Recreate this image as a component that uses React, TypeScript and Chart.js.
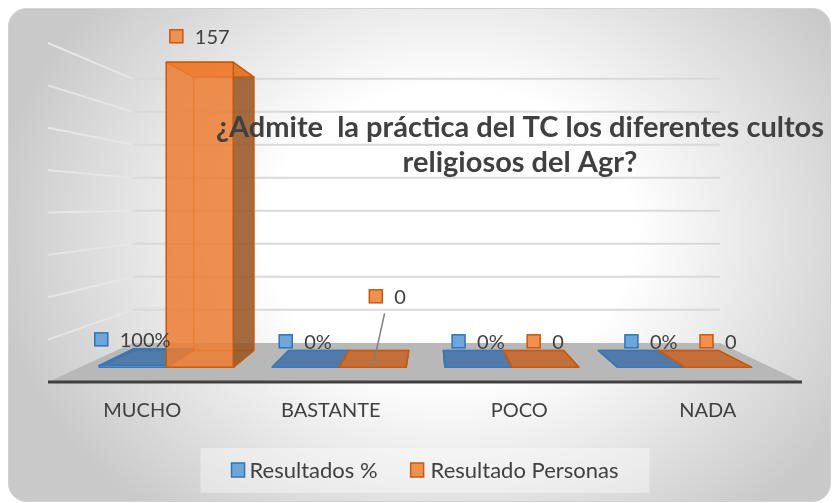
import { useEffect, useRef } from 'react';
import { Chart, registerables } from 'chart.js';

Chart.register(...registerables);

// ---------- data ----------
const categories = ['MUCHO', 'BASTANTE', 'POCO', 'NADA'];
const resultadosPct = [1, 0, 0, 0]; // fraction (1 = 100%)
const resultadoPersonas = [157, 0, 0, 0];
const yTicks = [0, 20, 40, 60, 80, 100, 120, 140, 160];
const seriesNames = ['Resultados %', 'Resultado Personas'];
const titleLines = ['¿Admite  la práctica del TC los diferentes cultos', 'religiosos del Agr?'];

// ---------- 3D projection ----------
const VX = 431;
const VY = 205;
const K_FRONT = 0.917;
const K_BACK = 0.822;
const K_WALL = 0.779;
const P = (x: number, y: number, k: number): [number, number] => [VX + (x - VX) * k, VY + (y - VY) * k];

const FONT = 'Lato, "Open Sans", sans-serif';
const TEXT = '#404040';

const styles = [
  {
    front: 'rgba(91,155,213,0.85)',
    top: 'rgba(58,108,165,0.82)',
    side: 'rgba(50,95,150,0.85)',
    stroke: '#3A78B8',
    marker: '#6FA6DA',
    markerStroke: '#2E75B6',
  },
  {
    front: 'rgba(237,125,49,0.85)',
    top: 'rgba(198,92,28,0.8)',
    side: 'rgba(150,82,32,0.85)',
    stroke: '#C55A11',
    marker: '#F0914F',
    markerStroke: '#C55A11',
  },
];

// label nudges (dataset-index) for labels Excel moved away from the bar
const labelNudges: Record<string, { dx: number; dy: number; leader: boolean }> = {
  '1-1': { dx: 15, dy: -45, leader: true },
};

function poly(ctx: CanvasRenderingContext2D, pts: [number, number][]) {
  ctx.beginPath();
  ctx.moveTo(pts[0][0], pts[0][1]);
  for (let i = 1; i < pts.length; i++) ctx.lineTo(pts[i][0], pts[i][1]);
  ctx.closePath();
}

function drawBox(ctx: CanvasRenderingContext2D, xl: number, xr: number, yt: number, yb: number, st: any) {
  const F = (x: number, y: number) => P(x, y, K_FRONT);
  const B = (x: number, y: number) => P(x, y, K_BACK);
  const tall = yb - yt > 3;
  ctx.save();
  ctx.lineJoin = 'round';
  ctx.lineWidth = 1.5;
  ctx.strokeStyle = st.stroke;
  // hidden edges first
  ctx.globalAlpha = 0.7;
  poly(ctx, [B(xl, yt), B(xr, yt), B(xr, yb), B(xl, yb)]);
  ctx.stroke();
  ctx.beginPath();
  ctx.moveTo(...F(xl, yb));
  ctx.lineTo(...B(xl, yb));
  ctx.moveTo(...F(xr, yb));
  ctx.lineTo(...B(xr, yb));
  ctx.stroke();
  ctx.globalAlpha = 1;
  // visible side face
  if (xr < VX) {
    poly(ctx, [F(xr, yt), B(xr, yt), B(xr, yb), F(xr, yb)]);
    ctx.fillStyle = st.side;
    ctx.fill();
    ctx.stroke();
  } else if (xl > VX) {
    poly(ctx, [F(xl, yt), B(xl, yt), B(xl, yb), F(xl, yb)]);
    ctx.fillStyle = st.side;
    ctx.fill();
    ctx.stroke();
  }
  // top
  poly(ctx, [F(xl, yt), F(xr, yt), B(xr, yt), B(xl, yt)]);
  ctx.fillStyle = tall ? st.front : st.top;
  ctx.fill();
  ctx.stroke();
  // front
  if (yb - yt > 0.5) {
    poly(ctx, [F(xl, yt), F(xr, yt), F(xr, yb), F(xl, yb)]);
    ctx.fillStyle = st.front;
    ctx.fill();
    ctx.stroke();
  }
  ctx.restore();
}

const scene3d = {
  id: 'scene3d',
  beforeDraw(chart: any) {
    const { ctx, chartArea: ca, scales } = chart;
    const W = chart.width;
    const H = chart.height;
    ctx.save();
    ctx.fillStyle = '#ffffff';
    ctx.fillRect(0, 0, W, H);
    // card with gradient
    ctx.beginPath();
    ctx.roundRect(8.5, 8.5, 822, 493, 18);
    ctx.save();
    ctx.clip();
    ctx.translate(450, 235);
    ctx.scale(1, 0.8);
    const g = ctx.createRadialGradient(0, 0, 0, 0, 0, 460);
    g.addColorStop(0, '#ffffff');
    g.addColorStop(0.4, '#ffffff');
    g.addColorStop(1, '#c9c9c9');
    ctx.fillStyle = g;
    ctx.fillRect(-1200, -1200, 2400, 2400);
    ctx.restore();
    ctx.strokeStyle = '#d2d2d2';
    ctx.lineWidth = 1;
    ctx.stroke();

    // walls gridlines
    const ys = scales.y;
    ctx.lineWidth = 2;
    for (const v of yTicks) {
      if (v === 0) continue;
      const py = ys.getPixelForValue(v);
      const a = P(ca.left, py, 1);
      const b = P(ca.left, py, K_WALL);
      const c = P(ca.right, py, K_WALL);
      ctx.strokeStyle = '#e6e6e6';
      ctx.beginPath();
      ctx.moveTo(a[0], a[1]);
      ctx.lineTo(b[0], b[1]);
      ctx.stroke();
      ctx.strokeStyle = '#d9d9d9';
      ctx.beginPath();
      ctx.moveTo(b[0], b[1]);
      ctx.lineTo(c[0], c[1]);
      ctx.stroke();
    }
    // floor
    const yb = ys.getPixelForValue(0);
    poly(ctx, [P(ca.left, yb, 1), P(ca.right, yb, 1), P(ca.right, yb, K_WALL), P(ca.left, yb, K_WALL)]);
    ctx.fillStyle = '#b8b8b8';
    ctx.fill();
    ctx.strokeStyle = '#404040';
    ctx.lineWidth = 3;
    ctx.beginPath();
    ctx.moveTo(...P(ca.left, yb, 1));
    ctx.lineTo(...P(ca.right, yb, 1));
    ctx.stroke();
    ctx.restore();
  },
  afterDatasetsDraw(chart: any) {
    const { ctx, chartArea: ca, scales } = chart;
    const ys = scales.y;
    const xs = scales.x;
    const yb0 = ys.getPixelForValue(0);
    // bars
    chart.data.datasets.forEach((ds: any, di: number) => {
      const meta = chart.getDatasetMeta(di);
      meta.data.forEach((el: any) => {
        const p = el.getProps(['x', 'y', 'base', 'width'], true);
        drawBox(ctx, p.x - p.width / 2, p.x + p.width / 2, p.y, p.base, styles[di]);
      });
    });
    // data labels
    ctx.save();
    ctx.font = `20px ${FONT}`;
    ctx.textBaseline = 'middle';
    ctx.textAlign = 'left';
    chart.data.datasets.forEach((ds: any, di: number) => {
      const meta = chart.getDatasetMeta(di);
      meta.data.forEach((el: any, i: number) => {
        const p = el.getProps(['x', 'y', 'base', 'width'], true);
        const v = ds.data[i];
        const text = di === 0 ? `${Math.round(v * 100)}%` : String(v);
        const [bx, by] = P(p.x, p.y, K_FRONT);
        const n = labelNudges[`${di}-${i}`];
        const cx = bx + (n ? n.dx : 0);
        const cy = by - 26 + (n ? n.dy : 0);
        const tw = ctx.measureText(text).width;
        const gw = 13 + 12 + tw;
        const left = cx - gw / 2;
        ctx.fillStyle = styles[di].marker;
        ctx.strokeStyle = styles[di].markerStroke;
        ctx.lineWidth = 1.5;
        ctx.fillRect(left, cy - 6.5, 13, 13);
        ctx.strokeRect(left, cy - 6.5, 13, 13);
        ctx.fillStyle = TEXT;
        ctx.fillText(text, left + 25, cy + 1);
        if (n && n.leader) {
          ctx.strokeStyle = '#7f7f7f';
          ctx.lineWidth = 1.5;
          ctx.beginPath();
          ctx.moveTo(cx - 3, cy + 17);
          ctx.lineTo(bx, by);
          ctx.stroke();
        }
      });
    });
    // category labels
    ctx.font = `20px ${FONT}`;
    ctx.textAlign = 'center';
    ctx.fillStyle = TEXT;
    categories.forEach((c, i) => {
      ctx.fillText(c, xs.getPixelForValue(i), yb0 + 29);
    });
    // title
    ctx.font = `bold 29px ${FONT}`;
    ctx.textBaseline = 'alphabetic';
    ctx.fillText(titleLines[0], 520, 137);
    ctx.fillText(titleLines[1], 520, 172);
    // legend
    const cxL = (ca.left + ca.right) / 2;
    ctx.fillStyle = 'rgba(255,255,255,0.38)';
    ctx.fillRect(cxL - 224.5, 448, 449, 45);
    ctx.font = `22px ${FONT}`;
    ctx.textAlign = 'left';
    ctx.textBaseline = 'middle';
    const w1 = ctx.measureText(seriesNames[0]).width;
    const w2 = ctx.measureText(seriesNames[1]).width;
    const total = 13 + 5 + w1 + 33 + 13 + 7 + w2;
    let x = cxL - total / 2;
    const ly = 470;
    [0, 1].forEach((di) => {
      ctx.fillStyle = styles[di].marker;
      ctx.strokeStyle = styles[di].markerStroke;
      ctx.lineWidth = 1.5;
      ctx.fillRect(x, ly - 7, 13, 14);
      ctx.strokeRect(x, ly - 7, 13, 14);
      ctx.fillStyle = TEXT;
      const gap = di === 0 ? 5 : 7;
      ctx.fillText(seriesNames[di], x + 13 + gap, ly + 1);
      x += 13 + gap + (di === 0 ? w1 : w2) + 33;
    });
    ctx.restore();
  },
};

export default function App() {
  const ref = useRef<HTMLCanvasElement>(null);
  useEffect(() => {
    const chart = new Chart(ref.current as HTMLCanvasElement, {
      type: 'bar',
      data: {
        labels: categories,
        datasets: [
          { label: seriesNames[0], data: resultadosPct, backgroundColor: 'rgba(0,0,0,0)', borderWidth: 0 },
          { label: seriesNames[1], data: resultadoPersonas, backgroundColor: 'rgba(0,0,0,0)', borderWidth: 0 },
        ],
      },
      options: {
        responsive: false,
        animation: false,
        events: [],
        layout: { padding: { left: 48, right: 30, top: 43, bottom: 121 } },
        datasets: { bar: { categoryPercentage: 0.776, barPercentage: 1 } },
        plugins: { legend: { display: false }, title: { display: false }, tooltip: { enabled: false } },
        scales: {
          x: { display: false, offset: true },
          y: { display: false, min: 0, max: 160 },
        },
      },
      plugins: [scene3d],
    });
    return () => chart.destroy();
  }, []);
  return (
    <div style={{ position: 'absolute', left: 0, top: 0, width: 832, height: 503 }}>
      <canvas ref={ref} width={832} height={503} style={{ display: 'block' }} />
    </div>
  );
}
